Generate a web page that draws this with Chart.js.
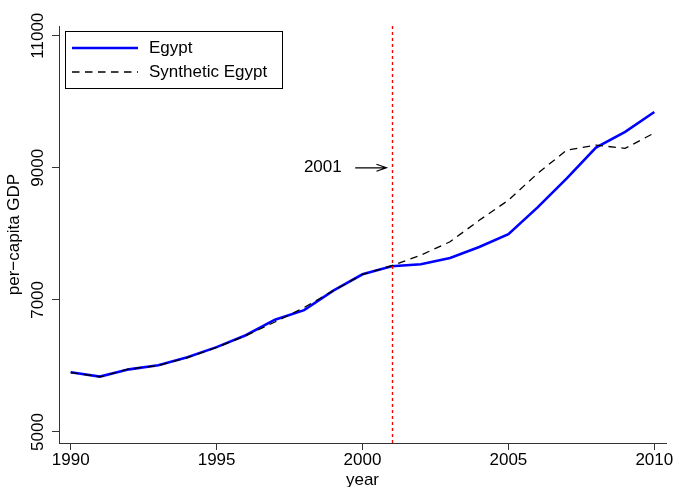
<!DOCTYPE html>
<html>
<head>
<meta charset="utf-8">
<script src="https://cdn.jsdelivr.net/npm/chart.js@4/dist/chart.umd.min.js"></script>
<style>
  html, body { margin: 0; padding: 0; background: #fff; }
  #wrap { width: 674px; height: 487px; }
</style>
</head>
<body>
<div id="wrap"><canvas id="c" width="674" height="487"></canvas></div>
<script>
// Per-capita GDP, Egypt vs. its synthetic control, 1990-2010
const years = [1990, 1991, 1992, 1993, 1994, 1995, 1996, 1997, 1998, 1999, 2000,
               2001, 2002, 2003, 2004, 2005, 2006, 2007, 2008, 2009, 2010];
const egypt = [5905, 5838, 5948, 6010, 6130, 6285, 6465, 6700, 6845, 7140, 7388,
               7510, 7540, 7635, 7800, 7995, 8400, 8840, 9305, 9545, 9845];
const syntheticEgypt = [5900, 5835, 5955, 6005, 6125, 6280, 6460, 6665, 6885, 7140, 7385,
                        7518, 7677, 7880, 8205, 8510, 8915, 9268, 9344, 9294, 9527];
const xTicks = [1990, 1995, 2000, 2005, 2010];
const yTicks = [5000, 7000, 9000, 11000];
const seriesNames = ['Egypt', 'Synthetic Egypt'];
const treatmentYear = 2001;
const markerLabel = '2001';

const FONT = 'Liberation Sans, Arial, Helvetica, sans-serif';
const SIZE = 17;

const toPoints = vals => years.map((yr, i) => ({ x: yr, y: vals[i] }));

// Vertical treatment line, arrow with label, and boxed legend
const annotations = {
  id: 'annotations',
  afterDatasetsDraw(chart) {
    const { ctx, chartArea: a, scales: { x, y } } = chart;
    ctx.save();
    // dotted red line at the treatment year
    const tx = Math.round(x.getPixelForValue(treatmentYear)) + 0.5;
    ctx.strokeStyle = '#ff0000';
    ctx.lineWidth = 1.4;
    ctx.setLineDash([3, 3]);
    ctx.beginPath();
    ctx.moveTo(tx, a.top);
    ctx.lineTo(tx, a.bottom);
    ctx.stroke();
    ctx.setLineDash([]);

    // arrow pointing at the line
    const ay = y.getPixelForValue(9000);
    const ax0 = x.getPixelForValue(1999.75);
    const ax1 = x.getPixelForValue(2000.82);
    ctx.strokeStyle = '#000';
    ctx.lineWidth = 1.2;
    ctx.beginPath();
    ctx.moveTo(ax0, ay);
    ctx.lineTo(ax1, ay);
    ctx.moveTo(ax1 - 10, ay - 3.5);
    ctx.lineTo(ax1, ay);
    ctx.lineTo(ax1 - 10, ay + 3.5);
    ctx.stroke();

    ctx.fillStyle = '#000';
    ctx.font = SIZE + 'px ' + FONT;
    ctx.textAlign = 'center';
    ctx.textBaseline = 'middle';
    ctx.fillText(markerLabel, x.getPixelForValue(1998.64), ay);

    // legend box
    const lx = a.left + 6, ly = a.top + 5, lw = 217, lh = 57;
    ctx.lineWidth = 1;
    ctx.strokeStyle = '#000';
    ctx.strokeRect(Math.round(lx) + 0.5, Math.round(ly) + 0.5, lw, lh);
    const ds = chart.data.datasets;
    const rows = [ly + 17, ly + 41];
    ds.forEach((d, i) => {
      ctx.strokeStyle = d.borderColor;
      ctx.lineWidth = d.borderWidth;
      ctx.setLineDash(d.borderDash || []);
      ctx.beginPath();
      ctx.moveTo(lx + 7, rows[i]);
      ctx.lineTo(lx + 73, rows[i]);
      ctx.stroke();
      ctx.setLineDash([]);
      ctx.fillStyle = '#000';
      ctx.textAlign = 'left';
      ctx.fillText(d.label, lx + 84, rows[i] + 0.5);
    });
    ctx.restore();
  }
};

new Chart(document.getElementById('c'), {
  type: 'line',
  data: {
    datasets: [
      {
        label: seriesNames[0],
        data: toPoints(egypt),
        borderColor: '#0000ff',
        borderWidth: 2.6,
        pointRadius: 0,
        tension: 0,
        order: 2
      },
      {
        label: seriesNames[1],
        data: toPoints(syntheticEgypt),
        borderColor: '#000000',
        borderWidth: 1.3,
        borderDash: [7.5, 5.5],
        pointRadius: 0,
        tension: 0,
        order: 1
      }
    ]
  },
  options: {
    responsive: false,
    animation: false,
    devicePixelRatio: 1,
    layout: { padding: { left: 0, right: 8, top: 26, bottom: 0 } },
    plugins: { legend: { display: false }, tooltip: { enabled: false } },
    scales: {
      x: {
        type: 'linear',
        min: 1989.6,
        max: 2010.4,
        afterBuildTicks: s => { s.ticks = xTicks.map(v => ({ value: v })); },
        afterFit: s => { s.height = 44; },
        grid: { drawOnChartArea: false, drawTicks: true, tickLength: 7, color: '#333', lineWidth: 1 },
        border: { display: true, color: '#333', width: 1 },
        ticks: {
          color: '#000', padding: 0, maxRotation: 0, autoSkip: false,
          font: { family: FONT, size: SIZE },
          callback: v => String(v)
        },
        title: {
          display: true, text: 'year', color: '#000',
          font: { family: FONT, size: SIZE }, padding: { top: 0, bottom: -4 }
        }
      },
      y: {
        type: 'linear',
        min: 4833,
        max: 11147,
        afterBuildTicks: s => { s.ticks = yTicks.map(v => ({ value: v })); },
        afterFit: s => { s.width = 59; },
        grid: { drawOnChartArea: false, drawTicks: true, tickLength: 7, color: '#333', lineWidth: 1 },
        border: { display: true, color: '#333', width: 1 },
        ticks: {
          color: '#000', padding: -9.5, minRotation: 90, maxRotation: 90,
          crossAlign: 'center', autoSkip: false,
          font: { family: FONT, size: SIZE },
          callback: v => String(v)
        },
        title: {
          display: true, text: 'per\u2212capita GDP', color: '#000',
          font: { family: FONT, size: SIZE }, padding: { top: 4, bottom: 0 }
        }
      }
    }
  },
  plugins: [annotations]
});
</script>
</body>
</html>
